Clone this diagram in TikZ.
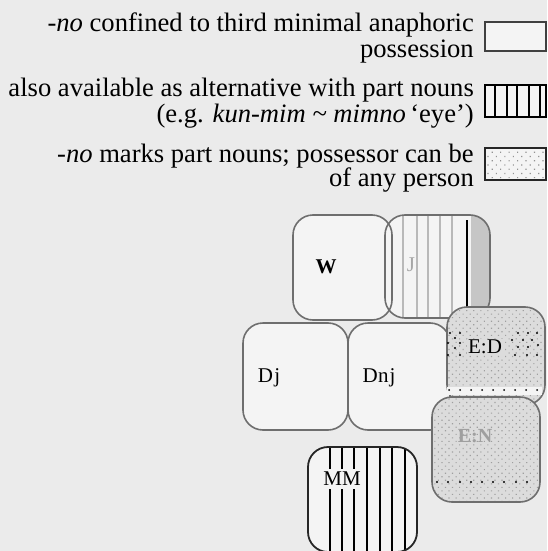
\documentclass[tikz,border=0pt]{standalone}
\usepackage{fontspec}
\setmainfont{Liberation Serif}
\usetikzlibrary{patterns.meta}
\definecolor{bg}{HTML}{EBEBEB}
\definecolor{boxfill}{HTML}{F4F4F4}
\definecolor{edge}{HTML}{6E6E6E}
\definecolor{stipfill}{HTML}{DCDCDC}
\begin{document}
\begin{tikzpicture}[x=1pt,y=-1pt,
  legendtext/.style={anchor=base east, inner sep=0pt, font=\fontsize{26.6}{26.6}\selectfont},
  celledge/.style={draw=edge, line width=1.6pt},
  celllabel/.style={font=\fontsize{21}{21}\selectfont, inner sep=0pt},
  stip/.style={pattern={Dots[distance=5pt,radius=0.8pt,angle=45]}, pattern color=gray!75},
]
\fill[bg] (0,0) rectangle (547,551);
\useasboundingbox (0,0) rectangle (547,551);

% ---------- legend ----------
\node[legendtext] (t1a) at (474,32) {\textit{-no} confined to third minimal anaphoric};
\node[legendtext] (t1b) at (474,58) {possession};
\node[legendtext] (t2a) at (474,96) {also available as alternative with part nouns};
\node[legendtext] (t2b) at (474,122) {(e.g. \textit{kun-mim \textasciitilde\ mimno}\,`eye')};
\node[legendtext] (t3a) at (474,162) {\textit{-no} marks part nouns; possessor can be};
\node[legendtext] (t3b) at (474,186) {of any person};

\draw[draw=gray!50!black, line width=1.4pt, fill=boxfill] (485,22) rectangle (546,51);
\draw[black, line width=1.6pt, fill=boxfill] (485,85) rectangle (546,117);
\foreach \x in {495,507,517,529,540} \draw[black, line width=1.2pt] (\x,85) -- (\x,117);
\fill[boxfill] (485,148) rectangle (546,180);
\fill[pattern={Dots[distance=6pt,radius=0.85pt,angle=45]}, pattern color=gray!85] (485,148) rectangle (546,180);
\draw[black!85, line width=1.4pt] (485,148) rectangle (546,180);

% ---------- upper cells ----------
\fill[boxfill, rounded corners=20pt] (293,215) rectangle (392,320);
\fill[boxfill, rounded corners=20pt] (385,215) rectangle (490,318);
\fill[boxfill, rounded corners=20pt] (243,323) rectangle (348,430);
\fill[boxfill, rounded corners=20pt] (348,323) rectangle (450,430);

% J stripes
\begin{scope}
  \clip[rounded corners=20pt] (385,215) rectangle (490,318);
  \fill[gray!45] (471,215) rectangle (490,318);
  \foreach \x in {403,417,428,440,452} \draw[gray!55, line width=2pt] (\x,215) -- (\x,318);
\end{scope}

\draw[celledge, rounded corners=20pt] (293,215) rectangle (392,320);
\draw[celledge, rounded corners=20pt] (385,215) rectangle (490,318);
\draw[celledge, rounded corners=20pt] (243,323) rectangle (348,430);
\draw[celledge, rounded corners=20pt] (348,323) rectangle (450,430);
\draw[black, line width=1.3pt] (467,220) -- (467,310);

% ---------- E:D ----------
\fill[stipfill, rounded corners=20pt] (447,307) rectangle (545,405);
\fill[stip, rounded corners=20pt] (447,307) rectangle (545,405);
\draw[celledge, rounded corners=20pt] (447,307) rectangle (545,405);
\fill[boxfill] (447,387) rectangle (542,395);
\foreach \x in {449,460,471,482,493,504,515,526,537} \fill[black] (\x,390) circle[radius=1pt];
\foreach \p in {(450,333),(460,333),(455,338),(448,343),(460,343),(455,348),(448,355),(460,355),
               (518,333),(528,333),(537,333),(512,340),(523,340),(532,340),(538,345),(518,347),(528,347),(515,355),(527,355),(537,355)}
  \fill[black] \p circle[radius=1.1pt];

% ---------- E:N ----------
\fill[stipfill, rounded corners=20pt] (432,397) rectangle (540,502);
\fill[stip, rounded corners=20pt] (432,397) rectangle (540,502);
\draw[celledge, rounded corners=20pt] (432,397) rectangle (540,502);
\foreach \x in {437,448,460,471,482,493,504,516,527} \fill[black] (\x,482) circle[radius=1.1pt];

% ---------- MM ----------
\fill[boxfill, rounded corners=20pt] (308,447) rectangle (417,552);
\begin{scope}
  \clip[rounded corners=20pt] (308,447) rectangle (417,552);
  \foreach \x in {330,342,354,367,380,392,405} \draw[black, line width=1.1pt] (\x,447) -- (\x,552);
\end{scope}
\draw[draw=black!85, line width=1.8pt, rounded corners=20pt] (308,447) rectangle (417,552);

% ---------- labels ----------
\node[celllabel, font=\fontsize{21}{21}\selectfont\bfseries] (lW) at (326,267) {W};
\node[celllabel, text=gray!70] (lJ) at (411,265) {J};
\node[celllabel] (lDj) at (269,378) {D\kern1.5pt j};
\node[celllabel] (lDnj) at (379,378) {D\kern0.5pt n\kern1pt j};
\node[celllabel, fill=stipfill, inner sep=1pt] (lED) at (485,347) {E:D};
\node[celllabel, text=gray!75, font=\fontsize{20}{20}\selectfont\bfseries] (lEN) at (475,436) {E:N};
\node[celllabel, fill=boxfill, inner xsep=1pt, inner ysep=3pt] (lMM) at (342,479) {MM};
\end{tikzpicture}
\end{document}
